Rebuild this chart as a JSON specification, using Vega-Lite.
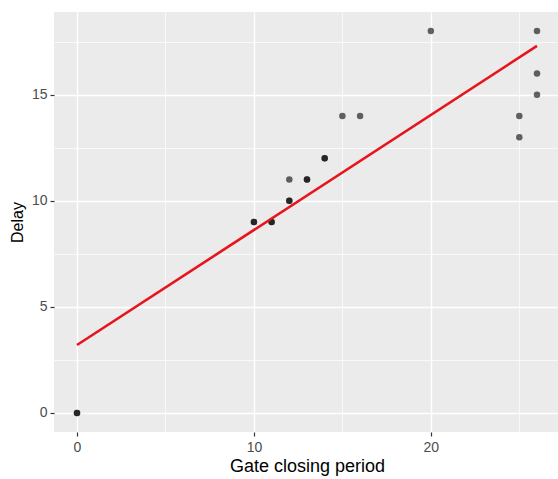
{
  "$schema": "https://vega.github.io/schema/vega-lite/v6.json",
  "autosize": "none",
  "padding": {"left": 54, "top": 12, "right": 0, "bottom": 47},
  "width": 506,
  "height": 420,
  "background": "white",
  "config": {
    "view": {"fill": "#ebebeb", "stroke": null},
    "font": "Liberation Sans",
    "axis": {
      "domain": false,
      "gridColor": "white",
      "tickColor": "#333333",
      "tickSize": 4,
      "tickWidth": 1.2,
      "labelColor": "#4d4d4d",
      "labelFontSize": 14,
      "labelFont": "Liberation Sans",
      "titleFont": "Liberation Sans",
      "titleFontWeight": "normal",
      "titleColor": "black",
      "labelPadding": 3
    }
  },
  "datasets": {
    "points": [
      {"gate": 0, "delay": 0},
      {"gate": 0, "delay": 0},
      {"gate": 10, "delay": 9},
      {"gate": 10, "delay": 9},
      {"gate": 11, "delay": 9},
      {"gate": 11, "delay": 9},
      {"gate": 12, "delay": 10},
      {"gate": 12, "delay": 10},
      {"gate": 12, "delay": 11},
      {"gate": 13, "delay": 11},
      {"gate": 13, "delay": 11},
      {"gate": 14, "delay": 12},
      {"gate": 14, "delay": 12},
      {"gate": 15, "delay": 14},
      {"gate": 16, "delay": 14},
      {"gate": 20, "delay": 18},
      {"gate": 25, "delay": 14},
      {"gate": 25, "delay": 13},
      {"gate": 26, "delay": 18},
      {"gate": 26, "delay": 16},
      {"gate": 26, "delay": 15}
    ],
    "fit": [
      {"gate": 0, "delay": 3.2},
      {"gate": 26, "delay": 17.3}
    ]
  },
  "layer": [
    {
      "data": {"name": "points"},
      "mark": {"type": "point", "filled": true, "size": 42, "color": "black", "opacity": 0.6},
      "encoding": {
        "x": {
          "field": "gate", "type": "quantitative",
          "scale": {"domain": [-1.3, 27.3], "nice": false, "zero": false},
          "axis": {
            "title": "Gate closing period",
            "titleFontSize": 18,
            "values": [0, 5, 10, 15, 20, 25],
            "labelExpr": "datum.value % 10 === 0 ? datum.label : ''",
            "labelPadding": 4,
            "tickOpacity": {"condition": {"test": "datum.value % 10 === 0", "value": 1}, "value": 0},
            "gridWidth": {"condition": {"test": "datum.value % 10 === 0", "value": 1.4}, "value": 0.7},
            "titlePadding": 3
          }
        },
        "y": {
          "field": "delay", "type": "quantitative",
          "scale": {"domain": [-0.9, 18.9], "nice": false, "zero": false},
          "axis": {
            "title": "Delay",
            "titleFontSize": 16,
            "values": [0, 2.5, 5, 7.5, 10, 12.5, 15, 17.5],
            "labelExpr": "datum.value % 5 === 0 ? datum.label : ''",
            "tickOpacity": {"condition": {"test": "datum.value % 5 === 0", "value": 1}, "value": 0},
            "gridWidth": {"condition": {"test": "datum.value % 5 === 0", "value": 1.4}, "value": 0.7},
            "titlePadding": 6
          }
        }
      }
    },
    {
      "data": {"name": "fit"},
      "mark": {"type": "line", "color": "#e8141b", "strokeWidth": 2.6},
      "encoding": {
        "x": {"field": "gate", "type": "quantitative"},
        "y": {"field": "delay", "type": "quantitative"}
      }
    }
  ]
}
